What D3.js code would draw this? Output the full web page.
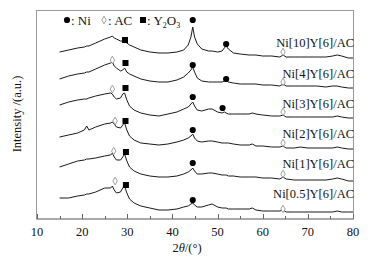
<!DOCTYPE html>
<html>
  <head>
    <title>XRD patterns</title>
    <script src="https://d3js.org/d3.v7.min.js"></script>
    <style>
    body { margin: 0; background: white; }
    text {
      font-family: "Liberation Serif", "Times New Roman", serif;
      fill: #111;
    }
    </style>
  </head>
  <body>
    <script>
      var width = 377;
      var height = 262;

      // 2theta grid shared by all patterns
      var theta = [15, 17, 19, 20.5, 21, 21.5, 23, 25, 26.3, 26.7, 27.1, 27.6, 28.5, 29.0, 29.4, 29.9, 30.5, 31.5,
                   33, 35, 37, 39, 41, 42.5, 43.5, 44.1, 44.5, 44.9, 45.5, 46.5, 48, 48.8, 50, 51, 51.5, 51.9, 52.4, 53.5,
                   55, 57, 57.7, 58.5, 60, 62, 63.8, 64.5, 65.2, 67, 68.3, 70, 72, 74, 75.5, 76.5, 77.5, 79, 80];

      // stacked intensities (a.u.)
      var ni10 = [167,169,171,172,173,173,176,180, 182,183,181,180,178,178,177,176,174,172,
                  169,167,166,166,167,169,174,182,192,182, 175,170,168,168,167,168,171,173,170,166,
                  165,164,164,164,163,163,162,164,162,162, 162,162,162,162,163,164,163,161,161];
      var ni4  = [140,143,145,146,147,147,150,154, 156,157,153,151,148,149,151,147,145,143,
                  140,138,137,137,139,142,146,149,152,147, 141,138,137,137,137,137,138,139,137,136,
                  135,135,135,135,134,134,133,135,133,133, 133,133,133,132,133,133,132,131,131];
      var ni3  = [114,117,119,120,120,121,123,125, 126,125,122,120,121,125,126,119,113,109,
                  106,104,103,105,107,110,112,115,117,113, 109,108,110,110,107,106,107,106,105,105,
                  105,105,106,105,104,103,103,104,102,102, 102,102,102,102,102,103,102,101,101];
      var ni2  = [82,84,86,89,93,89,92,95, 96,97,95,92,91,94,96,89,83,79,
                  76,75,74,75,77,79,81,83,85,81, 78,77,78,78,77,76,76,76,76,75,
                  74,74,75,73,73,72,72,73,71,71, 72,71,71,71,71,72,71,70,70];
      var ni1  = [52,55,58,59,60,60,61,63, 64,66,62,59,59,62,65,58,52,48,
                  45,43,42,42,43,45,47,49,51,48, 45,45,46,46,45,44,44,44,43,43,
                  42,42,42,42,41,41,40,42,40,39, 39,39,39,39,40,41,40,38,38];
      var ni05 = [21,21,23,24,25,25,27,31, 31,33,29,26,27,31,33,26,20,16,
                  13,11,9,9,10,12,13,15,16,14, 12,12,14,15,12,11,11,11,10,10,
                  10,10,11,9,8,8,8,9,7,7, 7,7,7,7,7,8,7,7,7];

      var sampleNames = ["Ni[10]Y[6]/AC", "Ni[4]Y[6]/AC", "Ni[3]Y[6]/AC", "Ni[2]Y[6]/AC", "Ni[1]Y[6]/AC", "Ni[0.5]Y[6]/AC"];
      var labelLevels = [172, 141, 111, 81, 51, 21];

      // phase markers [2theta, level]
      var niPeaks = [[44.5,199],[51.9,175],[44.5,154],[51.9,140],[44.5,122],[51.1,111],[44.5,89],[44.5,56],[44.5,19]];
      var acPeaks = [[64.5,167],[26.7,159],[64.5,137],[26.7,130],[64.5,107],[27.3,98],[64.5,76],[27.0,68],[64.5,45],[27.3,38],[64.5,10]];
      var y2o3Peaks = [[29.5,179],[29.6,156],[29.6,131],[29.6,98],[29.7,67],[29.7,34]];

      var xTicks = [10, 20, 30, 40, 50, 60, 70, 80];
      var xMinor = [15, 25, 35, 45, 55, 65, 75];

      var series = [ni10, ni4, ni3, ni2, ni1, ni05];

      var svg = d3.select("body")
                  .append("svg")
                  .attr("width", width)
                  .attr("height", height)

      var x = d3.scaleLinear().domain([10, 80]).range([37, 353]);
      var y = d3.scaleLinear().domain([0, 209]).range([219, 10]);

      // frame
      svg.append("rect")
         .attr("x", x(10) - 0.5)
         .attr("y", 10.5)
         .attr("width", x(80) - x(10) + 1)
         .attr("height", 208.5)
         .attr("fill", "none")
         .attr("stroke", "#999")
         .attr("stroke-width", 1)

      // bottom axis, ticks inward
      var axis = svg.append("g").attr("transform", "translate(0,219)");
      axis.append("line")
          .attr("x1", x(10) - 0.5).attr("x2", x(80) + 0.5)
          .attr("stroke", "#888")
      axis.selectAll(".major").data(xTicks).enter().append("line")
          .attr("x1", d => Math.round(x(d)) + 0.5).attr("x2", d => Math.round(x(d)) + 0.5)
          .attr("y1", 0).attr("y2", -5)
          .attr("stroke", "#666")
      axis.selectAll(".minor").data(xMinor).enter().append("line")
          .attr("x1", d => Math.round(x(d)) + 0.5).attr("x2", d => Math.round(x(d)) + 0.5)
          .attr("y1", 0).attr("y2", -3)
          .attr("stroke", "#666")
      axis.selectAll("text").data(xTicks).enter().append("text")
          .attr("x", d => x(d))
          .attr("y", 17)
          .attr("text-anchor", "middle")
          .style("font-size", "12.5px")
          .text(d => d)

      // axis titles
      var xt = svg.append("text")
                  .attr("x", 187).attr("y", 252)
                  .attr("text-anchor", "middle")
                  .style("font-size", "12.5px")
      xt.append("tspan").text("2")
      xt.append("tspan").style("font-style", "italic").text("θ")
      xt.append("tspan").text("/(°)")

      svg.append("text")
         .attr("transform", "translate(21,114) rotate(-90)")
         .attr("text-anchor", "middle")
         .style("font-size", "12.5px")
         .text("Intensity /(a.u.)")

      // patterns
      var line = d3.line()
                   .x((d, i) => x(theta[i]))
                   .y(d => y(d));

      svg.selectAll(".pattern").data(series).enter().append("path")
         .attr("d", line)
         .attr("fill", "none")
         .attr("stroke", "#1a1a1a")
         .attr("stroke-width", 1)

      svg.selectAll(".name").data(sampleNames).enter().append("text")
         .attr("x", x(80) + 1)
         .attr("y", (d, i) => y(labelLevels[i]))
         .attr("text-anchor", "end")
         .style("font-size", "12.5px")
         .text(d => d)

      // markers
      var circle = d3.symbol().type(d3.symbolCircle).size(30);
      var square = d3.symbol().type(d3.symbolSquare).size(36);
      var diamond = d3.symbol().type(d3.symbolDiamond).size(17);

      svg.selectAll(".ni").data(niPeaks).enter().append("path")
         .attr("d", circle)
         .attr("transform", d => "translate(" + x(d[0]) + "," + y(d[1]) + ")")
         .attr("fill", "#000")
      svg.selectAll(".y2o3").data(y2o3Peaks).enter().append("path")
         .attr("d", square)
         .attr("transform", d => "translate(" + x(d[0]) + "," + y(d[1]) + ")")
         .attr("fill", "#000")
      svg.selectAll(".ac").data(acPeaks).enter().append("path")
         .attr("d", diamond)
         .attr("transform", d => "translate(" + x(d[0]) + "," + y(d[1]) + ")")
         .attr("fill", "white")
         .attr("stroke", "#888")
         .attr("stroke-width", 0.8)

      // legend
      var legend = svg.append("g").style("font-size", "13px");
      legend.append("path").attr("d", circle).attr("transform", "translate(67,20)").attr("fill", "#000")
      legend.append("text").attr("x", 71).attr("y", 24.5).text(": Ni")
      legend.append("path").attr("d", diamond).attr("transform", "translate(104,20)")
            .attr("fill", "white").attr("stroke", "#888").attr("stroke-width", 0.8)
      legend.append("text").attr("x", 108).attr("y", 24.5).text(": AC")
      legend.append("path").attr("d", square).attr("transform", "translate(143,20)").attr("fill", "#000")
      var yl = legend.append("text").attr("x", 147).attr("y", 24.5)
      yl.append("tspan").text(": Y")
      yl.append("tspan").attr("dy", 3).style("font-size", "8px").text("2")
      yl.append("tspan").attr("dy", -3).text("O")
      yl.append("tspan").attr("dy", 3).style("font-size", "8px").text("3")
    </script>
  </body>
</html>
